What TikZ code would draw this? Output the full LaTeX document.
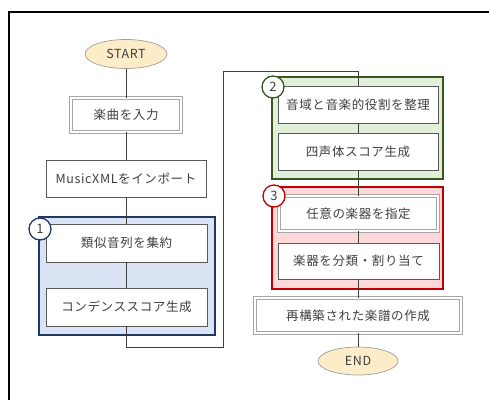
\documentclass[tikz,border=0pt]{standalone}
\usepackage{fontspec}
\setmainfont{Noto Sans CJK JP}[LetterSpace=5]
\usetikzlibrary{shapes.geometric}
\definecolor{txt}{HTML}{404040}
\definecolor{boxline}{HTML}{595959}
\definecolor{bfill}{HTML}{DAE3F3}
\definecolor{bline}{HTML}{203864}
\definecolor{gfill}{HTML}{E2F0D9}
\definecolor{gline}{HTML}{385723}
\definecolor{rfill}{HTML}{FFD9D9}
\definecolor{rline}{HTML}{C00000}
\definecolor{efill}{HTML}{FCECC8}
\definecolor{conn}{HTML}{404040}
\tikzset{
  every node/.style={text=txt, font=\fontsize{12.5}{14}\selectfont, inner sep=0pt},
  term/.style={ellipse, draw=gray!75, fill=efill, line width=0.7pt},
  stepbox/.style={rectangle, draw=boxline, fill=white, line width=0.8pt},
  dblbox/.style={rectangle, draw=gray!70, double=white, double distance=2.5pt, fill=white, line width=0.8pt},
  link/.style={draw=conn, line width=1pt},
  numc/.style={circle, fill=white, line width=1.3pt, minimum size=22pt, font=\fontsize{13}{14}\selectfont},
}
\begin{document}
\begin{tikzpicture}[x=1pt,y=-1pt]
\useasboundingbox (0,0) rectangle (489,399);
% outer frame
\draw[black, line width=1.6pt] (9,400) -- (9,12) -- (489,12);
% groups
\draw[fill=bfill, draw=bline, line width=1.6pt] (39,217) rectangle (215,335);
\draw[fill=gfill, draw=gline, line width=1.6pt] (272,77) rectangle (443,179);
\draw[fill=rfill, draw=rline, line width=1.6pt] (272,187) rectangle (443,289);
% nodes
\node[term, minimum width=82pt, minimum height=29pt] (start) at (126,54) {START};
\node[dblbox, minimum width=110pt, minimum height=34pt] (in) at (126,115) {楽曲を入力};
\node[stepbox, minimum width=160pt, minimum height=37pt] (xml) at (126,178.5) {MusicXMLをインポート};
\node[stepbox, minimum width=161pt, minimum height=38pt] (a1) at (126.5,243) {類似音列を集約};
\node[stepbox, minimum width=161pt, minimum height=38pt] (a2) at (126.5,307) {コンデンススコア生成};
\node[stepbox, minimum width=160pt, minimum height=37pt] (b1) at (358,104.5) {音域と音楽的役割を整理};
\node[stepbox, minimum width=160pt, minimum height=37pt] (b2) at (358,151.5) {四声体スコア生成};
\node[dblbox, minimum width=159pt, minimum height=35pt] (c1) at (358.5,213.5) {任意の楽器を指定};
\node[stepbox, minimum width=161pt, minimum height=36pt] (c2) at (358.5,261) {楽器を分類・割り当て};
\node[dblbox, minimum width=206pt, minimum height=35pt] (rec) at (358,315.5) {再構築された楽譜の作成};
\node[term, minimum width=80pt, minimum height=28pt] (end) at (358,361) {END};
% connectors
\coordinate (k1) at (126.5,347);
\coordinate (k2) at (223,347);
\coordinate (k3) at (223,71);
\coordinate (k4) at (358,71);
\draw[link] (start) -- (in);
\draw[link] (in) -- (xml);
\draw[link] (xml.south) -- (a1.north -| xml.south);
\draw[link] (a1) -- (a2);
\draw[link] (a2.south) -- (k1) -- (k2) -- (k3) -- (k4) -- (b1.north);
\draw[link] (b1) -- (b2);
\draw[link] (b2.south) -- (c1.north -| b2.south);
\draw[link] (c1.south -| b2.south) -- (c2.north -| b2.south);
\draw[link] (c2.south -| rec.north) -- (rec.north);
\draw[link] (rec) -- (end);
% number circles
\node[numc, draw=bline] (n1) at (40,229) {1};
\node[numc, draw=gline] (n2) at (273,87) {2};
\node[numc, draw=rline] (n3) at (274,196) {3};
\end{tikzpicture}
\end{document}
